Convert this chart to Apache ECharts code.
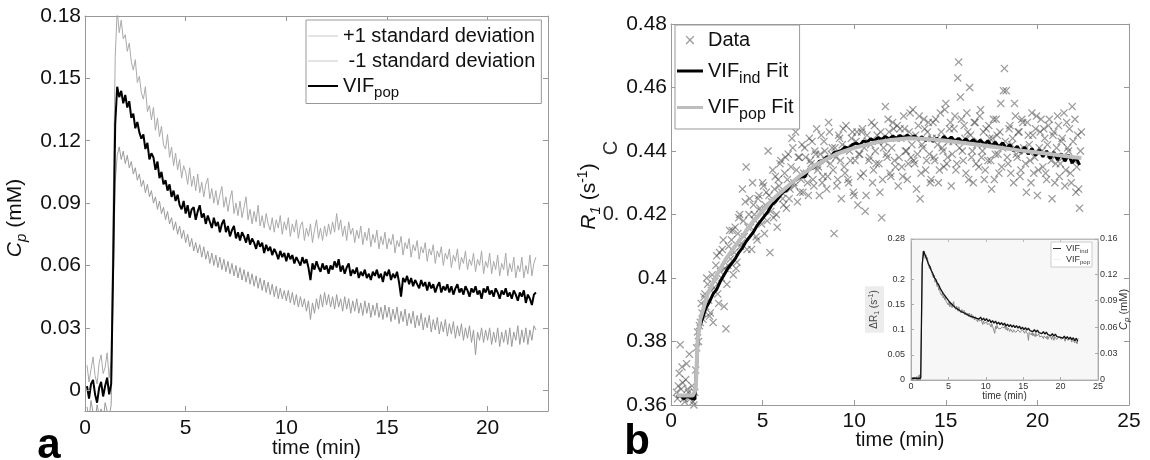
<!DOCTYPE html>
<html><head><meta charset="utf-8">
<script src="https://cdn.jsdelivr.net/npm/echarts@6/dist/echarts.min.js"></script>
<style>html,body{margin:0;padding:0;background:#fff}#c{width:1150px;height:460px}</style>
</head><body><div id="c"></div>
<script>
// ---------- Panel a : C_p (mM) vs time (min), samples every 0.1 min from 0.1 ----------
const aT0 = 0.1, aDt = 0.1;
const aMean = [
0.002,-0.004,0.003,0.005,-0.002,-0.006,0.001,0.004,-0.003,0.002,0.006,-0.002,0.003,
0.060,0.128,0.146,0.141,0.144,0.138,0.142,0.136,0.139,0.131,0.133,0.126,0.129,0.124,0.121,0.123,
0.116,0.119,0.111,0.114,0.112,0.106,0.110,0.102,0.105,0.099,0.101,0.096,0.099,0.093,0.096,0.091,
0.094,0.089,0.087,0.091,0.085,0.089,0.083,0.087,0.088,0.082,0.086,0.089,0.083,0.085,0.080,0.084,
0.081,0.078,0.083,0.079,0.081,0.076,0.080,0.082,0.076,0.079,0.074,0.077,0.079,0.073,0.076,0.072,
0.076,0.074,0.071,0.075,0.070,0.073,0.071,0.068,0.072,0.069,0.071,0.066,0.070,0.067,0.069,0.065,
0.068,0.066,0.063,0.067,0.064,0.066,0.062,0.066,0.063,0.065,0.061,0.064,0.062,0.060,0.064,0.061,
0.063,0.059,0.053,0.061,0.058,0.062,0.059,0.057,0.061,0.058,0.060,0.056,0.060,0.058,0.062,0.059,
0.063,0.057,0.060,0.056,0.059,0.061,0.055,0.058,0.056,0.059,0.054,0.057,0.055,0.058,0.054,0.056,
0.053,0.057,0.055,0.058,0.054,0.056,0.052,0.057,0.055,0.058,0.053,0.056,0.054,0.057,0.052,0.045,
0.054,0.052,0.055,0.051,0.054,0.050,0.053,0.051,0.049,0.053,0.050,0.052,0.048,0.052,0.049,0.051,
0.047,0.050,0.052,0.047,0.050,0.048,0.051,0.047,0.050,0.046,0.049,0.051,0.047,0.049,0.046,0.050,
0.048,0.045,0.049,0.047,0.050,0.046,0.048,0.044,0.049,0.047,0.050,0.046,0.048,0.045,0.049,0.047,
0.044,0.048,0.046,0.049,0.045,0.047,0.044,0.048,0.046,0.043,0.047,0.045,0.048,0.042,0.046,0.044,
0.041,0.046,0.047];
const aUpper = [
0.012,0.004,0.010,0.016,0.007,0.003,0.013,0.017,0.008,0.011,0.018,0.006,0.014,
0.090,0.160,0.183,0.172,0.178,0.169,0.171,0.163,0.167,0.158,0.154,0.159,0.148,0.151,0.143,0.140,
0.146,0.134,0.137,0.130,0.136,0.125,0.131,0.122,0.127,0.118,0.116,0.123,0.112,0.117,0.108,0.114,
0.106,0.111,0.102,0.108,0.105,0.099,0.107,0.098,0.103,0.096,0.104,0.095,0.100,0.093,0.099,0.102,
0.092,0.097,0.090,0.096,0.089,0.094,0.098,0.088,0.093,0.086,0.092,0.096,0.085,0.090,0.084,0.091,
0.083,0.088,0.093,0.082,0.087,0.080,0.086,0.081,0.089,0.079,0.084,0.078,0.085,0.080,0.077,0.083,
0.076,0.082,0.078,0.084,0.075,0.081,0.077,0.083,0.074,0.080,0.076,0.082,0.073,0.079,0.081,0.072,
0.078,0.074,0.080,0.071,0.077,0.082,0.073,0.078,0.072,0.079,0.074,0.080,0.075,0.081,0.076,0.085,
0.077,0.082,0.074,0.079,0.072,0.081,0.075,0.078,0.071,0.077,0.073,0.079,0.070,0.076,0.072,0.078,
0.069,0.075,0.071,0.077,0.068,0.074,0.070,0.076,0.068,0.073,0.070,0.075,0.066,0.072,0.069,0.074,
0.065,0.071,0.068,0.073,0.064,0.070,0.067,0.072,0.063,0.069,0.066,0.071,0.062,0.068,0.065,0.070,
0.061,0.067,0.064,0.069,0.060,0.066,0.063,0.068,0.059,0.065,0.062,0.068,0.058,0.064,0.061,0.067,
0.058,0.063,0.060,0.066,0.057,0.063,0.060,0.067,0.056,0.062,0.059,0.066,0.056,0.062,0.058,0.065,
0.055,0.061,0.058,0.066,0.055,0.061,0.057,0.064,0.054,0.060,0.057,0.064,0.054,0.060,0.056,0.065,
0.055,0.061,0.064];
const aLower = [
-0.008,-0.014,-0.005,-0.011,-0.016,-0.007,-0.012,-0.009,-0.015,-0.006,-0.010,-0.013,-0.007,
0.050,0.100,0.113,0.117,0.111,0.115,0.109,0.113,0.107,0.110,0.104,0.107,0.101,0.104,0.098,0.101,
0.095,0.099,0.093,0.096,0.090,0.093,0.087,0.091,0.085,0.088,0.082,0.086,0.080,0.083,0.077,0.081,
0.075,0.079,0.073,0.077,0.071,0.075,0.069,0.073,0.067,0.071,0.066,0.070,0.064,0.069,0.063,0.067,
0.061,0.066,0.060,0.065,0.059,0.064,0.058,0.063,0.057,0.062,0.056,0.061,0.055,0.060,0.054,0.059,
0.053,0.058,0.052,0.057,0.051,0.056,0.050,0.055,0.049,0.054,0.048,0.053,0.047,0.052,0.046,0.051,
0.045,0.050,0.044,0.049,0.044,0.048,0.043,0.048,0.042,0.047,0.041,0.046,0.040,0.045,0.040,0.044,
0.038,0.043,0.034,0.042,0.037,0.044,0.039,0.046,0.040,0.047,0.041,0.046,0.040,0.045,0.039,0.046,
0.040,0.044,0.038,0.045,0.039,0.044,0.037,0.043,0.038,0.044,0.037,0.042,0.036,0.043,0.037,0.042,
0.035,0.041,0.036,0.042,0.035,0.040,0.034,0.041,0.035,0.040,0.033,0.039,0.034,0.040,0.032,0.038,
0.033,0.039,0.031,0.037,0.032,0.038,0.030,0.036,0.031,0.037,0.029,0.035,0.030,0.036,0.028,0.034,
0.029,0.035,0.027,0.033,0.028,0.034,0.026,0.032,0.027,0.033,0.025,0.031,0.026,0.032,0.024,0.030,
0.025,0.031,0.023,0.029,0.017,0.028,0.024,0.030,0.023,0.029,0.024,0.030,0.022,0.028,0.023,0.030,
0.021,0.028,0.023,0.029,0.022,0.030,0.021,0.028,0.024,0.031,0.022,0.029,0.023,0.030,0.022,0.029,
0.024,0.031,0.029];
const aXTicks = [0,5,10,15,20];
const aYTicks = [0,0.03,0.06,0.09,0.12,0.15,0.18];

// ---------- Panel b : R1 (s^-1) vs time (min) ----------
const bFitPopT = [0.3,0.6,0.9,1.2,1.35,1.45,1.6,1.8,2,2.5,3,3.5,4,4.5,5,5.5,6,6.5,7,7.5,8,8.5,9,9.5,10,11,12,13,14,15,16,17,18,19,20,21,22,22.4];
const bFitPop = [0.363,0.363,0.363,0.363,0.365,0.380,0.387,0.391,0.395,0.401,0.406,0.410,0.414,0.418,0.421,0.4245,0.427,0.4295,0.432,0.434,0.436,0.4375,0.439,0.440,0.441,0.4425,0.4435,0.444,0.4438,0.4432,0.4425,0.4418,0.441,0.4402,0.4395,0.4388,0.438,0.4378];
const bIndT0 = 0.3, bIndDt = 0.2;
const bFitInd = [
0.3625,0.3630,0.3620,0.3628,0.3622,0.3618,0.3835,0.3870,0.3905,0.3925,
0.3950,0.3965,0.3990,0.4010,0.4030,0.4045,0.4060,0.4080,0.4095,0.4115,
0.4130,0.4145,0.4165,0.4180,0.4195,0.4210,0.4230,0.4240,0.4255,0.4270,
0.4275,0.4290,0.4305,0.4312,0.4320,0.4318,0.4342,0.4345,0.4352,0.4368,
0.4370,0.4382,0.4378,0.4395,0.4398,0.4402,0.4412,0.4408,0.4420,0.4425,
0.4418,0.4432,0.4428,0.4438,0.4432,0.4442,0.4436,0.4446,0.4438,0.4447,
0.4440,0.4449,0.4441,0.4450,0.4442,0.4448,0.4436,0.4445,0.4433,0.4442,
0.4430,0.4440,0.4432,0.4446,0.4434,0.4444,0.4430,0.4440,0.4428,0.4438,
0.4426,0.4436,0.4424,0.4434,0.4420,0.4432,0.4416,0.4428,0.4412,0.4426,
0.4408,0.4420,0.4400,0.4415,0.4395,0.4412,0.4390,0.4408,0.4386,0.4403,
0.4382,0.4400,0.4376,0.4396,0.4372,0.4392,0.4368,0.4388,0.4362,0.4380,
0.4356];
const bDataT0 = 0.3, bDataDt = 0.1;
const bData = [
0.364,0.366,0.379,0.372,0.362,0.368,0.365,0.376,0.363,0.361,
0.364,0.378,0.380,0.386,0.389,0.394,0.391,0.398,0.388,0.396,
0.386,0.399,0.407,0.392,0.402,0.409,0.391,0.384,0.404,0.415,
0.412,0.401,0.416,0.405,0.419,0.410,0.428,0.413,0.435,0.416,
0.425,0.409,0.423,0.418,0.412,0.426,0.421,0.430,0.414,0.427,
0.440,0.408,0.424,0.419,0.432,0.416,0.429,0.437,0.425,0.433,
0.422,0.439,0.428,0.444,0.430,0.446,0.424,0.438,0.431,0.427,
0.441,0.433,0.426,0.437,0.443,0.429,0.439,0.434,0.426,0.445,
0.432,0.440,0.428,0.449,0.436,0.441,0.414,0.438,0.431,0.444,
0.425,0.447,0.433,0.441,0.430,0.437,0.446,0.426,0.443,0.423,
0.439,0.446,0.433,0.421,0.445,0.437,0.442,0.430,0.448,0.436,
0.443,0.427,0.419,0.441,0.454,0.438,0.446,0.432,0.449,0.437,
0.444,0.429,0.447,0.435,0.451,0.440,0.431,0.446,0.438,0.453,
0.436,0.428,0.448,0.425,0.442,0.450,0.434,0.446,0.439,0.431,
0.449,0.437,0.444,0.430,0.452,0.441,0.435,0.455,0.438,0.447,
0.429,0.443,0.451,0.436,0.468,0.457,0.440,0.448,0.433,0.446,
0.460,0.438,0.430,0.449,0.442,0.435,0.453,0.440,0.431,0.447,
0.437,0.444,0.428,0.450,0.439,0.445,0.433,0.455,0.441,0.466,
0.459,0.436,0.448,0.442,0.430,0.451,0.438,0.446,0.434,0.449,
0.440,0.427,0.445,0.437,0.452,0.433,0.447,0.426,0.441,0.450,
0.435,0.444,0.431,0.448,0.439,0.425,0.446,0.436,0.451,0.432,
0.443,0.438,0.429,0.449,0.440,0.433,0.454,0.437,0.427,0.445,
0.422,0.446];
const bData2T0 = 0.35, bData2Dt = 0.1;
const bData2 = [
0.362,0.370,0.365,0.367,0.361,0.373,0.364,0.362,0.366,0.360,
0.371,0.383,0.385,0.392,0.387,0.395,0.400,0.393,0.389,0.401,
0.397,0.404,0.395,0.408,0.400,0.412,0.403,0.398,0.410,0.406,
0.415,0.408,0.403,0.414,0.420,0.411,0.418,0.424,0.409,0.420,
0.416,0.430,0.420,0.413,0.425,0.422,0.417,0.429,0.423,0.418,
0.426,0.421,0.434,0.428,0.420,0.431,0.436,0.427,0.423,0.438,
0.431,0.425,0.435,0.441,0.429,0.434,0.438,0.427,0.442,0.433,
0.438,0.430,0.444,0.436,0.431,0.440,0.447,0.435,0.439,0.430,
0.443,0.437,0.432,0.446,0.439,0.434,0.441,0.429,0.445,0.437,
0.442,0.435,0.448,0.431,0.440,0.444,0.427,0.437,0.446,0.439,
0.432,0.447,0.441,0.426,0.443,0.438,0.449,0.434,0.440,0.445,
0.436,0.446,0.431,0.443,0.439,0.450,0.433,0.441,0.447,0.435,
0.448,0.438,0.444,0.432,0.447,0.440,0.436,0.452,0.442,0.437,
0.445,0.439,0.451,0.433,0.441,0.447,0.437,0.449,0.430,0.444,
0.438,0.450,0.442,0.434,0.446,0.440,0.453,0.436,0.443,0.449,
0.439,0.447,0.434,0.463,0.441,0.450,0.437,0.444,0.452,0.431,
0.445,0.440,0.449,0.436,0.443,0.451,0.438,0.446,0.434,0.442,
0.448,0.437,0.444,0.431,0.450,0.439,0.446,0.435,0.459,0.443,
0.438,0.447,0.433,0.444,0.455,0.439,0.446,0.432,0.450,0.441,
0.436,0.449,0.442,0.430,0.445,0.438,0.451,0.434,0.446,0.440,
0.447,0.433,0.442,0.450,0.437,0.445,0.430,0.441,0.448,0.436,
0.444,0.452,0.434,0.441,0.447,0.430,0.443,0.450,0.435,0.428,
0.440];
const bXTicks = [0,5,10,15,20,25];
const bYTicks = [0.36,0.38,0.40,0.42,0.44,0.46,0.48];

// ---------- Inset : delta R1 (s^-1, left) and C_p (mM, right) vs time ----------
const iT0 = 0.1, iDt = 0.2;
const iInd = [
0.003,0.002,0.004,0.001,0.003,0.002,0.004,0.230,0.256,0.248,
0.240,0.232,0.226,0.218,0.212,0.204,0.200,0.193,0.189,0.182,
0.179,0.172,0.170,0.164,0.162,0.156,0.155,0.150,0.149,0.144,
0.145,0.140,0.141,0.136,0.138,0.133,0.135,0.130,0.132,0.127,
0.130,0.125,0.128,0.123,0.126,0.121,0.125,0.119,0.123,0.118,
0.122,0.116,0.120,0.114,0.118,0.113,0.117,0.111,0.115,0.110,
0.114,0.109,0.113,0.107,0.111,0.106,0.110,0.105,0.109,0.104,
0.108,0.103,0.107,0.101,0.105,0.100,0.104,0.099,0.103,0.098,
0.101,0.096,0.100,0.095,0.099,0.094,0.097,0.092,0.096,0.091,
0.095,0.090,0.093,0.088,0.092,0.087,0.091,0.086,0.089,0.085,
0.088,0.083,0.087,0.082,0.086,0.081,0.085,0.080,0.084,0.078,
0.083,0.077];
const iXTicks = [0,5,10,15,20,25];
const iLTicks = [0,0.05,0.1,0.15,0.2,0.28];
const iRTicks = [0,0.03,0.06,0.09,0.12,0.16];

// ---------- helpers ----------
const FONT = "'Liberation Sans', Arial, Helvetica, sans-serif";
const pairs = (t0, dt, arr) => arr.map((v, i) => [+(t0 + dt * i).toFixed(3), v]);
const zip = (ts, vs) => vs.map((v, i) => [ts[i], v]);
const XSYM = 'path://M0,1.1L1.1,0L5,3.9L8.9,0L10,1.1L6.1,5L10,8.9L8.9,10L5,6.1L1.1,10L0,8.9L3.9,5Z';
const XSYM_LEG = 'path://M-3,-3M13,13M0,1.1L1.1,0L5,3.9L8.9,0L10,1.1L6.1,5L10,8.9L8.9,10L5,6.1L1.1,10L0,8.9L3.9,5Z';
const bar = (w, h) => 'path://M0,0H' + w + 'V' + h + 'H0Z';

function axis(o) {
  const base = {
    type: 'value', gridIndex: o.g, position: o.pos, min: o.min, max: o.max, z: o.z || 4,
    axisLine: { show: true, onZero: false, lineStyle: { color: o.lc || '#999', width: 1 } },
    axisTick: { show: true, inside: true, length: o.tl || 5, customValues: o.ticks, lineStyle: { color: o.lc || '#999' } },
    axisLabel: { show: !!o.labels, customValues: o.ticks, fontSize: o.fs || 20, color: o.col || '#111', fontFamily: FONT, margin: o.margin || 6 },
    splitLine: { show: false },
    nameMoveOverlap: false
  };
  if (o.name) {
    base.name = o.name; base.nameLocation = 'middle'; base.nameGap = o.nameGap;
    if (o.nameRotate !== undefined) base.nameRotate = o.nameRotate;
    base.nameTextStyle = o.nameStyle;
  }
  return base;
}

const option = {
  animation: false,
  backgroundColor: '#fff',
  textStyle: { fontFamily: FONT },
  grid: [
    { left: 85, top: 16, width: 463, height: 395, outerBoundsMode: 'none', show: false },
    { left: 671, top: 24, width: 458, height: 381, outerBoundsMode: 'none', show: false },
    { left: 911, top: 239, width: 187, height: 141, outerBoundsMode: 'none', show: true, z: 5,
      backgroundColor: '#f7f7f7', borderColor: '#bbb', borderWidth: 1 }
  ],
  xAxis: [
    axis({ g: 0, pos: 'bottom', min: 0, max: 23, ticks: aXTicks, labels: true, fs: 21, margin: 7,
      name: 'time (min)', nameGap: 27, nameStyle: { fontSize: 20, color: '#111', fontFamily: FONT } }),
    axis({ g: 0, pos: 'top', min: 0, max: 23, ticks: aXTicks }),
    axis({ g: 1, pos: 'bottom', min: 0, max: 25, ticks: bXTicks, labels: true, fs: 21, margin: 6,
      name: 'time (min)', nameGap: 25, nameStyle: { fontSize: 20, color: '#111', fontFamily: FONT } }),
    axis({ g: 1, pos: 'top', min: 0, max: 25, ticks: bXTicks }),
    axis({ g: 2, pos: 'bottom', min: 0, max: 25, ticks: iXTicks, labels: true, fs: 9, col: '#333', margin: 2, tl: 3, lc: '#aaa', z: 6,
      name: 'time (min)', nameGap: 11, nameStyle: { fontSize: 10, color: '#333', fontFamily: FONT } }),
    axis({ g: 2, pos: 'top', min: 0, max: 25, ticks: iXTicks, tl: 3, lc: '#bbb', z: 6 })
  ],
  yAxis: [
    axis({ g: 0, pos: 'left', min: -0.01, max: 0.18, ticks: aYTicks, labels: true, fs: 21, margin: 4,
      name: '{i|C}{si|p}{n| (mM)}', nameGap: 56, nameRotate: 90,
      nameStyle: { fontSize: 21, color: '#111', fontFamily: FONT, padding: [0, 9, 0, 0],
        rich: { i: { fontSize: 21, fontStyle: 'italic', fontFamily: FONT, color: '#111' },
                si: { fontSize: 15, fontStyle: 'italic', fontFamily: FONT, color: '#111', padding: [12, 0, 0, 0] },
                n: { fontSize: 21, fontFamily: FONT, color: '#111' } } } }),
    axis({ g: 0, pos: 'right', min: -0.01, max: 0.18, ticks: aYTicks }),
    axis({ g: 1, pos: 'left', min: 0.36, max: 0.48, ticks: bYTicks, labels: true, fs: 21, margin: 4,
      name: '{i|R}{si|1}{n| (s}{sp|-1}{n|)}', nameGap: 68, nameRotate: 90,
      nameStyle: { fontSize: 21, color: '#111', fontFamily: FONT, padding: [0, 0, 0, 36],
        rich: { i: { fontSize: 21, fontStyle: 'italic', fontFamily: FONT, color: '#111' },
                si: { fontSize: 15, fontStyle: 'italic', fontFamily: FONT, color: '#111', padding: [12, 0, 0, 0] },
                sp: { fontSize: 14, fontFamily: FONT, color: '#111', padding: [0, 0, 12, 0] },
                n: { fontSize: 21, fontFamily: FONT, color: '#111' } } } }),
    axis({ g: 1, pos: 'right', min: 0.36, max: 0.48, ticks: bYTicks }),
    axis({ g: 2, pos: 'left', min: 0, max: 0.28, ticks: iLTicks, labels: true, fs: 9, col: '#333', margin: 6, tl: 3, lc: '#aaa', z: 6,
      name: '{n|ΔR}{s|1}{n| (s}{p|-1}{n|)}', nameGap: 27, nameRotate: 90,
      nameStyle: { fontSize: 10, color: '#444', fontFamily: FONT, backgroundColor: '#ececec', padding: [3, 4, 3, 4],
        rich: { n: { fontSize: 10, color: '#444', fontFamily: FONT },
                s: { fontSize: 7, color: '#444', fontFamily: FONT, padding: [6, 0, 0, 0] },
                p: { fontSize: 7, color: '#444', fontFamily: FONT, padding: [0, 0, 6, 0] } } } }),
    axis({ g: 2, pos: 'right', min: 0, max: 0.16, ticks: iRTicks, labels: true, fs: 9, col: '#333', margin: 2, tl: 3, lc: '#aaa', z: 6,
      name: '{i|C}{s|p}{n| (mM)}', nameGap: 19, nameRotate: 90,
      nameStyle: { fontSize: 11, color: '#333', fontFamily: FONT,
        rich: { i: { fontSize: 11, fontStyle: 'italic', color: '#333', fontFamily: FONT },
                s: { fontSize: 8, fontStyle: 'italic', color: '#333', fontFamily: FONT, padding: [6, 0, 0, 0] },
                n: { fontSize: 11, color: '#333', fontFamily: FONT } } } })
  ],
  legend: [
    { orient: 'vertical', left: 306, top: 20, selectedMode: false, z: 8,
      data: [{ name: '+1 standard deviation', icon: bar(30, 1) }, { name: ' -1 standard deviation', icon: bar(30, 1) }, { name: 'VIF_pop', icon: bar(30, 2) }],
      itemWidth: 30, itemHeight: 12, itemGap: 5, padding: [6, 6, 3, 2],
      borderColor: '#999', borderWidth: 1, backgroundColor: '#fff',
      formatter: n => n === 'VIF_pop' ? '{m|VIF}{s|pop}' : n,
      textStyle: { fontSize: 20, color: '#111', fontFamily: FONT,
        rich: { m: { fontSize: 20, color: '#111', fontFamily: FONT }, s: { fontSize: 15, color: '#111', fontFamily: FONT, padding: [14, 0, 0, 0] } } } },
    { orient: 'vertical', left: 675, top: 25, selectedMode: false, z: 8,
      data: [{ name: 'Data', icon: XSYM_LEG }, { name: 'VIF_ind Fit', icon: bar(26, 3) }, { name: 'VIF_pop Fit', icon: bar(26, 3) }],
      itemWidth: 26, itemHeight: 14, itemGap: 11, padding: [5, 6, 6, 2],
      borderColor: '#999', borderWidth: 1, backgroundColor: '#fff',
      formatter: n => n === 'Data' ? 'Data' : (n === 'VIF_ind Fit' ? '{m|VIF}{s|ind}{m| Fit}' : '{m|VIF}{s|pop}{m| Fit}'),
      textStyle: { fontSize: 20, color: '#111', fontFamily: FONT,
        rich: { m: { fontSize: 20, color: '#111', fontFamily: FONT }, s: { fontSize: 16, color: '#111', fontFamily: FONT, padding: [15, 0, 0, 0] } } } },
    { orient: 'vertical', left: 1051, top: 242, selectedMode: false, z: 10,
      data: [{ name: 'VIF_ind', icon: bar(8, 1) }, { name: 'VIF_pop ', icon: bar(8, 1) }],
      itemWidth: 8, itemHeight: 6, itemGap: 1, padding: [2, 2, 2, 2],
      borderColor: '#ccc', borderWidth: 1, backgroundColor: '#fff',
      formatter: n => n === 'VIF_ind' ? '{m|VIF}{s|ind}' : '{m|VIF}{s|pop}',
      textStyle: { fontSize: 9, color: '#333', fontFamily: FONT,
        rich: { m: { fontSize: 9, color: '#333', fontFamily: FONT }, s: { fontSize: 6, color: '#333', fontFamily: FONT, padding: [5, 0, 0, 0] } } } }
  ],
  graphic: [
    { type: 'rect', silent: true, z: 3, shape: { x: 862, y: 230, width: 266, height: 175 }, style: { fill: '#fff' } },
    { type: 'text', silent: true, x: 49, y: 446, style: { text: 'a', font: 'bold 42px ' + FONT, fill: '#000', align: 'center', verticalAlign: 'middle' } },
    { type: 'text', silent: true, x: 637, y: 442, style: { text: 'b', font: 'bold 42px ' + FONT, fill: '#000', align: 'center', verticalAlign: 'middle' } },
    { type: 'text', silent: true, x: 611, y: 148, rotation: Math.PI / 2, style: { text: 'C', font: '20px ' + FONT, fill: '#333', align: 'center', verticalAlign: 'middle' } },
    { type: 'text', silent: true, x: 611, y: 214, style: { text: '0.', font: '20px ' + FONT, fill: '#222', align: 'center', verticalAlign: 'middle' } }
  ],
  series: [
    { name: '+1 standard deviation', type: 'line', xAxisIndex: 0, yAxisIndex: 0, data: pairs(aT0, aDt, aUpper),
      showSymbol: false, symbol: 'none', lineStyle: { color: '#a9a9a9', width: 1 }, itemStyle: { color: '#c8c8c8' } },
    { name: ' -1 standard deviation', type: 'line', xAxisIndex: 0, yAxisIndex: 0, data: pairs(aT0, aDt, aLower),
      showSymbol: false, symbol: 'none', lineStyle: { color: '#9a9a9a', width: 1 }, itemStyle: { color: '#c8c8c8' } },
    { name: 'VIF_pop', type: 'line', xAxisIndex: 0, yAxisIndex: 0, data: pairs(aT0, aDt, aMean),
      showSymbol: false, symbol: 'none', lineStyle: { color: '#000', width: 2 }, itemStyle: { color: '#000' } },

    { name: 'Data', type: 'scatter', xAxisIndex: 2, yAxisIndex: 2, data: pairs(bDataT0, bDataDt, bData),
      symbol: XSYM, symbolSize: 8, itemStyle: { color: 'rgba(55,55,55,0.62)' } },
    { name: 'Data', type: 'scatter', xAxisIndex: 2, yAxisIndex: 2, data: pairs(bData2T0, bData2Dt, bData2),
      symbol: XSYM, symbolSize: 8, itemStyle: { color: 'rgba(55,55,55,0.62)' } },
    { name: 'VIF_ind Fit', type: 'line', xAxisIndex: 2, yAxisIndex: 2, data: pairs(bIndT0, bIndDt, bFitInd),
      showSymbol: false, symbol: 'none', lineStyle: { color: '#000', width: 3 }, itemStyle: { color: '#000' } },
    { name: 'VIF_pop Fit', type: 'line', xAxisIndex: 2, yAxisIndex: 2, data: zip(bFitPopT, bFitPop),
      showSymbol: false, symbol: 'none', lineStyle: { color: '#bdbdbd', width: 4 }, itemStyle: { color: '#bdbdbd' } },

    { name: 'VIF_pop ', type: 'line', xAxisIndex: 4, yAxisIndex: 5, data: pairs(aT0, aDt, aMean), z: 7,
      showSymbol: false, symbol: 'none', lineStyle: { color: '#8a8a8a', width: 1 }, itemStyle: { color: '#f0f0f0' } },
    { name: 'VIF_ind', type: 'line', xAxisIndex: 4, yAxisIndex: 4, data: pairs(iT0, iDt, iInd), z: 7,
      showSymbol: false, symbol: 'none', lineStyle: { color: '#111', width: 1.3 }, itemStyle: { color: '#333' } }
  ]
};

const chart = echarts.init(document.getElementById('c'), null, { renderer: 'canvas' });
chart.setOption(option);
</script>
</body></html>
